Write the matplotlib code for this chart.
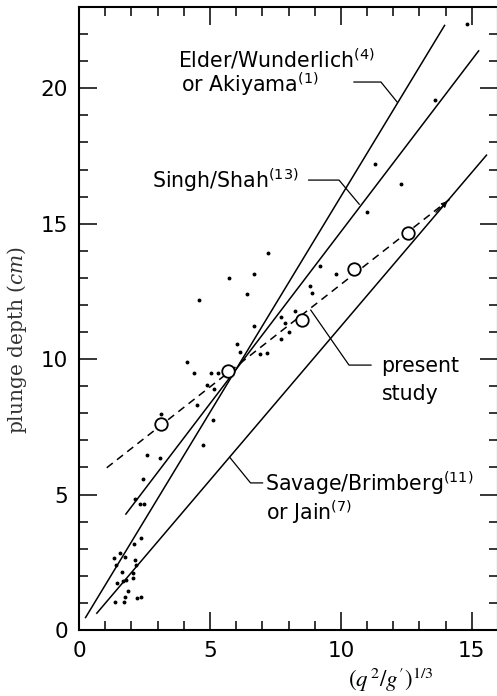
import matplotlib
matplotlib.use("Agg")
import matplotlib.pyplot as plt

# ---- data ----
dots_x = [1.34, 1.57, 1.74, 1.42, 1.64, 2.08, 2.17, 2.15, 2.11, 2.38, 1.44, 1.67, 1.80, 2.08,
          1.89, 1.76, 1.36, 1.72, 2.20, 2.36, 2.15, 2.34, 2.49, 2.46, 2.59, 3.10, 3.13, 4.72,
          5.10, 4.51, 4.87, 5.15, 4.41, 5.05, 5.30, 4.13, 4.57, 6.02, 6.14, 5.72, 6.42, 6.70,
          7.21, 6.68, 6.91, 7.16, 7.70, 7.87, 8.02, 7.70, 8.25, 9.21, 9.81, 8.82, 8.91, 11.0,
          11.3, 12.3, 13.58, 14.82]
dots_y = [2.65, 2.83, 2.71, 2.40, 2.13, 2.11, 2.40, 2.60, 3.17, 3.38, 1.75, 1.82, 1.85, 1.91,
          1.45, 1.23, 1.04, 1.04, 1.19, 1.23, 4.85, 4.66, 4.66, 5.58, 6.46, 6.34, 7.98, 6.83,
          7.77, 8.30, 9.04, 8.88, 9.47, 9.50, 9.50, 9.88, 12.2, 10.55, 10.25, 12.98, 12.42, 13.16,
          13.92, 11.22, 10.18, 10.21, 11.56, 11.32, 11.01, 10.76, 11.77, 13.42, 13.16, 12.69, 12.45, 15.44,
          17.2, 16.48, 19.56, 22.36]

circ_x = [3.13, 5.70, 8.51, 10.51, 12.58]
circ_y = [7.59, 9.56, 11.46, 13.31, 14.66]

elder_x = [0.25, 13.96]
elder_y = [0.46, 22.32]
singh_x = [1.79, 15.26]
singh_y = [4.28, 21.38]
savage_x = [0.68, 15.56]
savage_y = [0.62, 17.53]
present_x = [1.06, 14.15]
present_y = [5.99, 15.90]

x_ticks = [0, 5, 10, 15]
y_ticks = [0, 5, 10, 15, 20]

# ---- figure ----
fig = plt.figure(figsize=(4.97, 6.96), dpi=100)
ax = fig.add_axes([79/497, 66/696, 419/497, 623/696])
ax.set_xlim(0, 16)
ax.set_ylim(0, 23)

lw = 1.1
ax.plot(elder_x, elder_y, color='k', lw=lw)
ax.plot(singh_x, singh_y, color='k', lw=lw)
ax.plot(savage_x, savage_y, color='k', lw=lw)
ax.plot(present_x, present_y, color='k', lw=lw, linestyle=(0, (5, 3.5)))
ax.annotate('', xy=(present_x[1], present_y[1]), xytext=(13.55, 15.35),
            arrowprops=dict(arrowstyle='-|>', color='k', lw=0.8, mutation_scale=9))
ax.plot(dots_x, dots_y, linestyle='none', marker='o', ms=1.8, color='k')
ax.plot(circ_x, circ_y, linestyle='none', marker='o', ms=9, mfc='white', mec='k', mew=1.3)

# leader lines
lk = dict(color='k', lw=0.9)
ax.plot([10.50, 11.53, 12.15], [20.23, 20.23, 19.49], **lk)
ax.plot([8.77, 9.93, 10.70], [16.61, 16.61, 15.72], **lk)
ax.plot([8.85, 10.31, 11.15], [11.81, 9.78, 9.78], **lk)
ax.plot([5.76, 6.55, 7.01], [6.37, 5.43, 5.43], **lk)

fs = 14.8
tk = dict(fontsize=fs, color='k', family='DejaVu Sans')
ax.text(3.78, 20.78, r'Elder/Wunderlich$^{\mathregular{(4)}}$', va='baseline', **tk)
ax.text(3.90, 19.86, r'or Akiyama$^{\mathregular{(1)}}$', va='baseline', **tk)
ax.text(2.78, 16.32, r'Singh/Shah$^{\mathregular{(13)}}$', va='baseline', **tk)
ax.text(11.53, 9.52, 'present', va='baseline', **tk)
ax.text(11.57, 8.49, 'study', va='baseline', **tk)
ax.text(7.10, 5.13, r'Savage/Brimberg$^{\mathregular{(11)}}$', va='baseline', **tk)
ax.text(7.14, 4.06, r'or Jain$^{\mathregular{(7)}}$', va='baseline', **tk)

# axes styling
for s in ['left', 'bottom', 'top', 'right']:
    ax.spines[s].set_linewidth(1.5)
ax.set_xticks(x_ticks)
ax.set_yticks(y_ticks)
ax.set_xticks(range(0, 17), minor=True)
ax.set_yticks(range(0, 24), minor=True)
ax.tick_params(which='both', direction='in', top=True, right=True, width=1.1)
ax.tick_params(which='major', length=13, labelsize=15.5, pad=8)
ax.tick_params(which='minor', length=6.5)

ax.set_ylabel(r'plunge depth ($\mathit{cm}$)', family='DejaVu Serif', fontsize=14.5,
              math_fontfamily='dejavuserif', color='#333333')
ax.yaxis.set_label_coords(-0.12, 0.465)
ax.set_xlabel(r"$(q^{\,2}/g')^{1/3}$", fontsize=16.5, math_fontfamily='stix')
ax.xaxis.set_label_coords(0.744, -0.058)

fig.savefig('out.png', dpi=100)
